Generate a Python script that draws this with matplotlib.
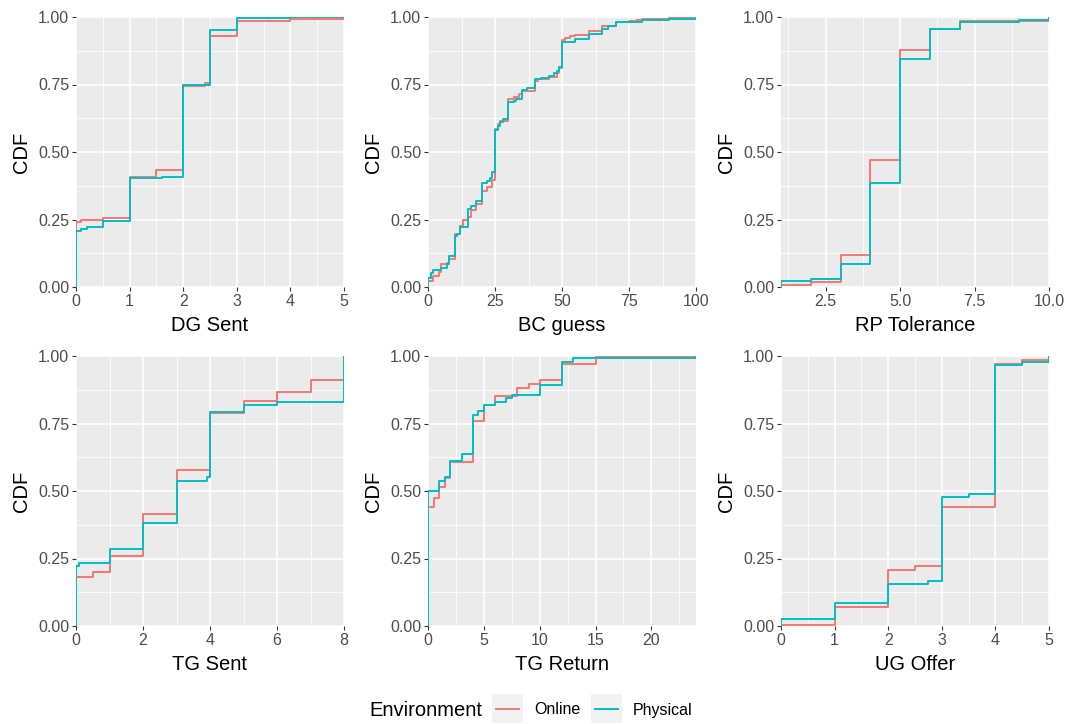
import numpy as np
import matplotlib
matplotlib.use("Agg")
import matplotlib.pyplot as plt
from matplotlib.lines import Line2D
from matplotlib.patches import Rectangle

plt.rcParams["font.family"] = ["Liberation Sans", "DejaVu Sans"]

# ---- data: ECDF break points (x) and CDF value after each break (y) ----
dg_x_online = [0, 0.1, 0.5, 1, 1.5, 2, 2.4, 2.5, 3, 4, 5]
dg_y_online = [0.239, 0.248, 0.256, 0.408, 0.432, 0.744, 0.754, 0.930, 0.985, 0.993, 1.0]
dg_x_phys = [0, 0.1, 0.2, 0.5, 1, 1.6, 2, 2.5, 3, 4]
dg_y_phys = [0.208, 0.215, 0.221, 0.246, 0.402, 0.407, 0.747, 0.953, 0.995, 1.0]

bc_x_online = [0, 2, 4, 5, 7, 8, 10, 12, 13, 15, 16, 18, 20, 22, 24, 25, 26, 27, 30, 32, 34, 35,
               40, 41, 45, 48, 49, 50, 51, 53, 55, 60, 65, 70, 75, 78, 80, 90, 100]
bc_y_online = [0.022, 0.040, 0.057, 0.084, 0.090, 0.103, 0.196, 0.227, 0.248, 0.258, 0.285, 0.308,
               0.357, 0.370, 0.395, 0.587, 0.605, 0.615, 0.695, 0.705, 0.713, 0.727, 0.762, 0.769,
               0.779, 0.794, 0.810, 0.916, 0.922, 0.928, 0.934, 0.949, 0.968, 0.981, 0.984, 0.988,
               0.993, 0.996, 1.0]
bc_x_phys = [0, 1, 2, 5, 7, 8, 10, 11, 12, 15, 16, 18, 20, 22, 23, 24, 25, 26, 27, 28, 30, 32, 33,
             35, 37, 40, 42, 45, 47, 48, 49, 50, 55, 60, 65, 67, 70, 80, 90, 100]
bc_y_phys = [0.035, 0.053, 0.062, 0.072, 0.084, 0.115, 0.190, 0.196, 0.221, 0.289, 0.301, 0.320,
             0.385, 0.392, 0.404, 0.426, 0.580, 0.596, 0.612, 0.624, 0.686, 0.690, 0.695, 0.730,
             0.736, 0.770, 0.774, 0.782, 0.794, 0.801, 0.816, 0.906, 0.918, 0.937, 0.955, 0.965,
             0.981, 0.990, 0.994, 1.0]

rp_x_online = [1, 2, 3, 4, 5, 6, 7, 10]
rp_y_online = [0.008, 0.020, 0.119, 0.469, 0.878, 0.955, 0.984, 1.0]
rp_x_phys = [1, 2, 3, 4, 5, 6, 7, 8, 9, 10]
rp_y_phys = [0.022, 0.029, 0.084, 0.385, 0.844, 0.955, 0.980, 0.983, 0.988, 1.0]

ts_x_online = [0, 0.5, 1, 2, 3, 4, 5, 6, 7, 8]
ts_y_online = [0.183, 0.199, 0.259, 0.414, 0.578, 0.790, 0.835, 0.865, 0.911, 1.0]
ts_x_phys = [0, 0.1, 1, 2, 3, 3.9, 4, 5, 6, 8]
ts_y_phys = [0.222, 0.235, 0.284, 0.380, 0.538, 0.551, 0.794, 0.819, 0.831, 1.0]

tr_x_online = [0, 0.5, 1, 1.5, 2, 4, 5, 6, 8, 9, 10, 12, 15]
tr_y_online = [0.442, 0.473, 0.516, 0.549, 0.609, 0.759, 0.818, 0.852, 0.880, 0.896, 0.911, 0.970, 1.0]
tr_x_phys = [0, 1, 1.5, 2, 3, 4, 4.5, 5, 6, 7, 7.5, 10, 12, 13, 24]
tr_y_phys = [0.501, 0.538, 0.553, 0.612, 0.636, 0.781, 0.796, 0.819, 0.831, 0.843, 0.856, 0.893,
             0.977, 0.991, 1.0]

ug_x_online = [0, 1, 2, 2.5, 3, 4, 4.5, 5]
ug_y_online = [0.003, 0.072, 0.207, 0.222, 0.442, 0.969, 0.985, 1.0]
ug_x_phys = [0, 1, 2, 2.75, 3, 3.5, 4, 4.5, 5]
ug_y_phys = [0.026, 0.084, 0.156, 0.168, 0.479, 0.489, 0.967, 0.977, 1.0]

panels = [
  ("DG Sent", (0, 5), [0, 1, 2, 3, 4, 5], ["0", "1", "2", "3", "4", "5"],
   np.arange(0.5, 5, 1.0), dg_x_online, dg_y_online, dg_x_phys, dg_y_phys),
  ("BC guess", (0, 100), [0, 25, 50, 75, 100], ["0", "25", "50", "75", "100"],
   [12.5, 37.5, 62.5, 87.5], bc_x_online, bc_y_online, bc_x_phys, bc_y_phys),
  ("RP Tolerance", (1, 10), [2.5, 5.0, 7.5, 10.0], ["2.5", "5.0", "7.5", "10.0"],
   [1.25, 3.75, 6.25, 8.75], rp_x_online, rp_y_online, rp_x_phys, rp_y_phys),
  ("TG Sent", (0, 8), [0, 2, 4, 6, 8], ["0", "2", "4", "6", "8"],
   [1, 3, 5, 7], ts_x_online, ts_y_online, ts_x_phys, ts_y_phys),
  ("TG Return", (0, 24), [0, 5, 10, 15, 20], ["0", "5", "10", "15", "20"],
   [2.5, 7.5, 12.5, 17.5, 22.5], tr_x_online, tr_y_online, tr_x_phys, tr_y_phys),
  ("UG Offer", (0, 5), [0, 1, 2, 3, 4, 5], ["0", "1", "2", "3", "4", "5"],
   np.arange(0.5, 5, 1.0), ug_x_online, ug_y_online, ug_x_phys, ug_y_phys),
]

COL_ONLINE = "#F8766D"
COL_PHYS = "#00BFC4"
W, H = 1069, 724

fig = plt.figure(figsize=(W / 100, H / 100), dpi=100)

lefts = [76, 428, 781]
tops = [17, 356]
pw, ph = 268, 270

def draw_ecdf(ax, xs, ys, xlim, color):
  span = xlim[1] - xlim[0]
  x = [xlim[0] - span] + list(xs) + [xlim[1] + span]
  y = [0.0] + list(ys) + [ys[-1]]
  ax.step(x, y, where="post", color=color, lw=1.4, zorder=3)

for i, (title, xlim, xt, xtl, xminor, xo, yo, xp, yp) in enumerate(panels):
  r, c = divmod(i, 3)
  ax = fig.add_axes([lefts[c] / W, 1 - (tops[r] + ph) / H, pw / W, ph / H])
  ax.set_facecolor("#EBEBEB")
  for s in ax.spines.values():
    s.set_visible(False)
  # grid
  for v in xminor:
    ax.axvline(v, color="white", lw=0.6, zorder=1)
  for v in [0.125, 0.375, 0.625, 0.875]:
    ax.axhline(v, color="white", lw=0.6, zorder=1)
  for v in xt:
    ax.axvline(v, color="white", lw=1.2, zorder=1)
  for v in [0, 0.25, 0.5, 0.75, 1.0]:
    ax.axhline(v, color="white", lw=1.2, zorder=1)

  draw_ecdf(ax, xo, yo, xlim, COL_ONLINE)
  draw_ecdf(ax, xp, yp, xlim, COL_PHYS)

  ax.set_xlim(*xlim)
  ax.set_ylim(0, 1)
  ax.set_xticks(xt)
  ax.set_xticklabels(xtl)
  ax.set_yticks([0, 0.25, 0.5, 0.75, 1.0])
  ax.set_yticklabels(["0.00", "0.25", "0.50", "0.75", "1.00"])
  ax.tick_params(length=3, width=0.8, color="#333333", labelcolor="#4D4D4D",
                 labelsize=11.5, pad=2)
  ax.set_xlabel(title, fontsize=14.5, labelpad=5)
  ax.set_ylabel("CDF", fontsize=14.5, labelpad=5)

# legend at bottom
fig.text(369 / W, 1 - 710 / H, "Environment", fontsize=14.5, va="center", ha="left")
for kx, lab, col in [(492, "Online", COL_ONLINE), (591, "Physical", COL_PHYS)]:
  fig.add_artist(Rectangle((kx / W, 1 - 723 / H), 31 / W, 29 / H,
                           transform=fig.transFigure, facecolor="#F2F2F2", edgecolor="none"))
  fig.add_artist(Line2D([(kx + 4) / W, (kx + 27) / W], [1 - 709 / H, 1 - 709 / H],
                        transform=fig.transFigure, color=col, lw=1.4))
  fig.text((kx + 42) / W, 1 - 710 / H, lab, fontsize=11.5, va="center", ha="left")

fig.savefig("out.png", dpi=100)
